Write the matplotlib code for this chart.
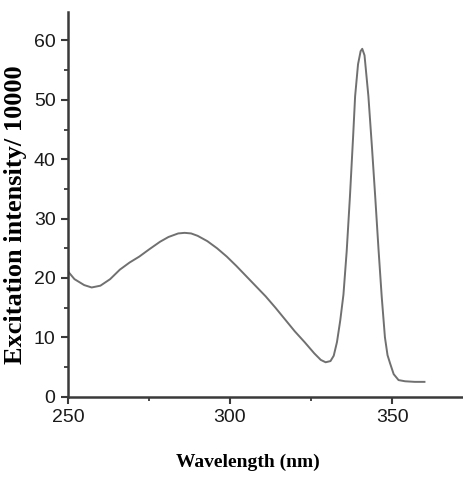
import matplotlib
matplotlib.use("Agg")
import matplotlib.pyplot as plt
from matplotlib.ticker import MultipleLocator

wavelength = [250, 252, 255, 257.3, 260, 263, 266, 269, 272, 275, 278.4, 281, 284, 286, 288, 290,
              293, 296, 299, 302, 305, 308, 311, 314, 317, 320, 323, 326, 328, 329.5, 331, 332,
              333, 334, 335, 336, 337, 338, 338.6, 339.5, 340.3, 340.8, 341.5, 342.7, 343.8,
              344.8, 345.8, 346.8, 347.8, 348.6, 349.4, 350.5, 352, 354, 357, 360]
intensity = [21.1, 19.8, 18.8, 18.4, 18.7, 19.8, 21.4, 22.6, 23.6, 24.8, 26.1, 26.9, 27.5, 27.6, 27.5, 27.1,
             26.2, 25.0, 23.6, 22.0, 20.3, 18.6, 16.9, 15.0, 13.0, 11.0, 9.2, 7.3, 6.2, 5.8, 6.0, 6.9,
             9.2, 12.8, 17.2, 24.5, 33.7, 44.0, 50.6, 56.0, 58.2, 58.6, 57.5, 50.6, 42.0,
             33.7, 25.0, 16.9, 10.0, 7.0, 5.6, 3.8, 2.8, 2.6, 2.5, 2.5]

x_ticks = [250, 300, 350]
y_ticks = [0, 10, 20, 30, 40, 50, 60]

fig = plt.figure(figsize=(4.64, 4.78), dpi=100)
ax = fig.add_axes([68/464, 81.3/478, 1 - 68/464, (396.7 - 12)/478])

ax.plot(wavelength, intensity, color="#707070", lw=1.4)

ax.set_xlim(250, 372.2)
ax.set_ylim(0, 64.8)
ax.set_xticks(x_ticks)
ax.set_yticks(y_ticks)
ax.xaxis.set_minor_locator(MultipleLocator(25))
ax.yaxis.set_minor_locator(MultipleLocator(5))

for s in ["top", "right"]:
    ax.spines[s].set_visible(False)
for s in ["left", "bottom"]:
    ax.spines[s].set_linewidth(1.8)
    ax.spines[s].set_color("#3a3a3a")

ax.tick_params(which="major", direction="out", length=5, width=1.5, color="#3a3a3a",
               labelsize=14, pad=4)
ax.tick_params(which="minor", direction="out", length=3, width=1.3, color="#3a3a3a")
for lab in ax.get_xticklabels() + ax.get_yticklabels():
    lab.set_fontfamily("Liberation Sans")
    lab.set_color("#1a1a1a")

ax.set_xlabel("Wavelength (nm)", fontfamily="Liberation Serif", fontweight="bold",
              fontsize=14)
ax.set_ylabel("Excitation intensity/ 10000", fontfamily="Liberation Serif", fontweight="bold",
              fontsize=19)
ax.xaxis.set_label_coords(0.453, -0.148)
ax.yaxis.set_label_coords(-0.104, 0.472)

fig.savefig("out.png", dpi=100)
